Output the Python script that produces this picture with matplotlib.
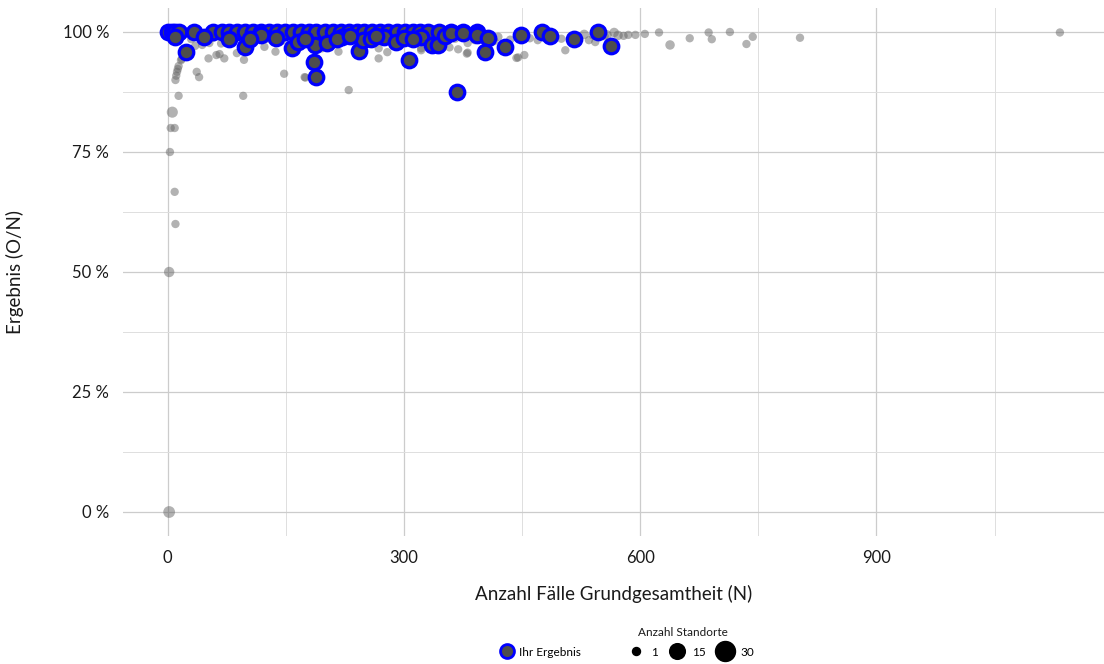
import numpy as np
import matplotlib.pyplot as plt
from matplotlib.lines import Line2D
from matplotlib.ticker import MultipleLocator, FuncFormatter

plt.rcParams['font.family'] = ['Lato', 'DejaVu Sans']

# all sites: N, rate, number of sites at that point
gray_n = [1, 2, 2, 6, 4, 9, 3, 9, 10, 14, 10, 11, 12, 13, 14, 17, 18, 21, 23, 28,
          35, 37, 40, 44, 52, 53, 62, 66, 68, 72, 88, 96, 97, 99, 123, 137, 148, 174,
          175, 196, 217, 230, 268, 268, 279, 322, 322, 358, 369, 380, 381, 381, 443,
          445, 453, 505, 529, 535, 543, 550, 558, 567, 572, 579, 594, 606, 624, 638,
          663, 687, 691, 714, 735, 743, 803, 1133,
          30, 45, 58, 75, 85, 110, 128, 145, 160, 170, 185, 200, 210, 225, 240, 255,
          262, 285, 295, 310, 330, 340, 350, 365, 390, 400, 415, 420, 435, 460, 470,
          480, 490, 500, 515, 520, 540, 555, 585]
gray_p = [1.0, 0.0, 0.5, 0.833, 0.80, 0.80, 0.75, 0.667, 0.60, 0.867, 0.90, 0.909, 0.917,
          0.923, 0.929, 0.941, 0.944, 0.952, 0.957, 0.964,
          0.971, 0.917, 0.906, 0.973, 0.945, 0.977, 0.952, 0.954, 0.976, 0.945, 0.956,
          0.867, 0.942, 0.959, 0.969, 0.959, 0.913, 0.906,
          0.905, 0.966, 0.959, 0.879, 0.966, 0.945, 0.958, 0.962, 0.966, 0.968, 0.964,
          0.955, 0.957, 0.977,
          0.946, 0.947, 0.952, 0.962, 0.995, 0.983, 0.979, 0.996, 0.994, 0.999, 0.993,
          0.992, 0.994, 0.996, 0.999, 0.973,
          0.987, 0.999, 0.985, 1.0, 0.975, 0.990, 0.988, 0.999,
          0.985, 0.982, 0.988, 0.980, 0.990, 0.983, 0.986, 0.981, 0.988, 0.978, 0.984,
          0.989, 0.981, 0.986, 0.983, 0.979,
          0.990, 0.984, 0.987, 0.982, 0.985, 0.989, 0.980, 0.986, 0.983, 0.988, 0.981,
          0.990, 0.984, 0.987, 0.983,
          0.992, 0.995, 0.986, 0.990, 0.988, 0.993, 0.991, 0.994]
gray_c = [8, 5, 3, 4, 1, 1, 1, 1, 1, 1, 1, 1, 1, 1, 1, 1, 1, 1, 1, 1,
          1, 1, 1, 1, 1, 1, 1, 1, 1, 1, 1, 1, 1, 1, 1, 1, 1, 1,
          1, 1, 1, 1, 1, 1, 1, 1, 1, 1, 1, 1, 1, 1,
          1, 1, 1, 1, 2, 1, 1, 2, 2, 2, 2, 1, 1, 1, 1, 2,
          1, 1, 1, 1, 1, 1, 1, 1,
          1, 1, 1, 1, 1, 1, 1, 1, 1, 1, 1, 1, 1, 1, 1, 1,
          1, 1, 1, 1, 1, 1, 1, 1, 1, 1, 1, 1, 1, 1, 1,
          1, 1, 1, 1, 1, 1, 1, 1]

# own results
blue_n = [0, 5, 10, 15, 33, 58, 69, 78, 88, 98, 108, 119, 129, 139, 149, 159, 169,
          179, 189, 200, 210, 220, 230, 240, 250, 260, 270, 280, 291, 301, 311, 321,
          331, 344, 360, 375, 393, 476, 546,
          23, 78, 98, 119, 158, 187, 186, 188, 203, 222, 243, 248, 275, 290, 306, 322,
          336, 343, 352, 360, 375, 393, 407, 403, 429, 449, 486, 516, 563, 368,
          9, 46, 105, 138, 165, 175, 215, 232, 258, 265, 300, 312]
blue_p = [1.0] * 39 + [
          0.958, 0.986, 0.969, 0.993, 0.967, 0.972, 0.938, 0.906, 0.977, 0.990, 0.960,
          0.983, 0.990, 0.979, 0.942, 0.990, 0.973, 0.972, 0.992, 0.998, 0.998, 0.994,
          0.988, 0.959, 0.969, 0.994, 0.992, 0.985, 0.971, 0.875,
          0.990, 0.990, 0.985, 0.987, 0.980, 0.985, 0.986, 0.991, 0.985, 0.992, 0.988,
          0.986]

size_levels = [1, 15, 30]


def size_px(c):
    return 8 + 12 * (np.sqrt(c) - 1) / (np.sqrt(30) - 1)


fig = plt.figure(figsize=(11.04, 6.64), dpi=100)
ax = fig.add_axes([123 / 1104, 1 - 536 / 664, (1104 - 123) / 1104, (536 - 8) / 664])

gs = [(size_px(c) * 0.75) ** 2 for c in gray_c]
ax.scatter(gray_n, gray_p, s=gs, color='#666666', alpha=0.5, linewidths=0, zorder=2)
ax.scatter(blue_n, blue_p, s=110, facecolor='#4d4d4d', edgecolor='#0000ff',
           linewidths=2.3, zorder=3)

ax.set_xlim(-56.6, 1189)
ax.set_ylim(-0.05, 1.05)
ax.xaxis.set_major_locator(MultipleLocator(300))
ax.xaxis.set_minor_locator(MultipleLocator(150))
ax.yaxis.set_major_locator(MultipleLocator(0.25))
ax.yaxis.set_minor_locator(MultipleLocator(0.125))
ax.yaxis.set_major_formatter(FuncFormatter(lambda v, p: f'{v * 100:.0f} %'))
ax.grid(which='major', color='#cccccc', linewidth=0.9)
ax.grid(which='minor', color='#dedede', linewidth=0.7)
ax.set_axisbelow(True)
for s in ax.spines.values():
    s.set_visible(False)
ax.tick_params(which='both', length=0, labelsize=12, colors='#1a1a1a', pad=10)

ax.set_xlabel('Anzahl Fälle Grundgesamtheit (N)', fontsize=13.5, color='#1a1a1a', labelpad=14)
ax.set_ylabel('Ergebnis (O/N)', fontsize=13.5, color='#1a1a1a', labelpad=28)

# legends at the bottom
h1 = [Line2D([], [], ls='', marker='o', markersize=10, mfc='#4d4d4d', mec='#0000ff', mew=2)]
leg1 = fig.legend(h1, ['Ihr Ergebnis'], loc='center', bbox_to_anchor=(540 / 1104, 1 - 652 / 664),
                  frameon=False, fontsize=8.5, handletextpad=0.4, handlelength=1.2)

h2 = [Line2D([], [], ls='', marker='o', markersize=size_px(c) * 0.72, color='black')
      for c in size_levels]
leg2 = fig.legend(h2, [str(c) for c in size_levels], loc='center',
                  bbox_to_anchor=(690 / 1104, 1 - 652 / 664),
                  frameon=False, fontsize=8.5, ncol=3, handletextpad=0.5,
                  columnspacing=0.8, handlelength=1.6, borderpad=0)
fig.text(683 / 1104, 1 - 632 / 664, 'Anzahl Standorte', fontsize=8.5, color='#1a1a1a',
         ha='center', va='center')

fig.savefig('out.png', dpi=100)
